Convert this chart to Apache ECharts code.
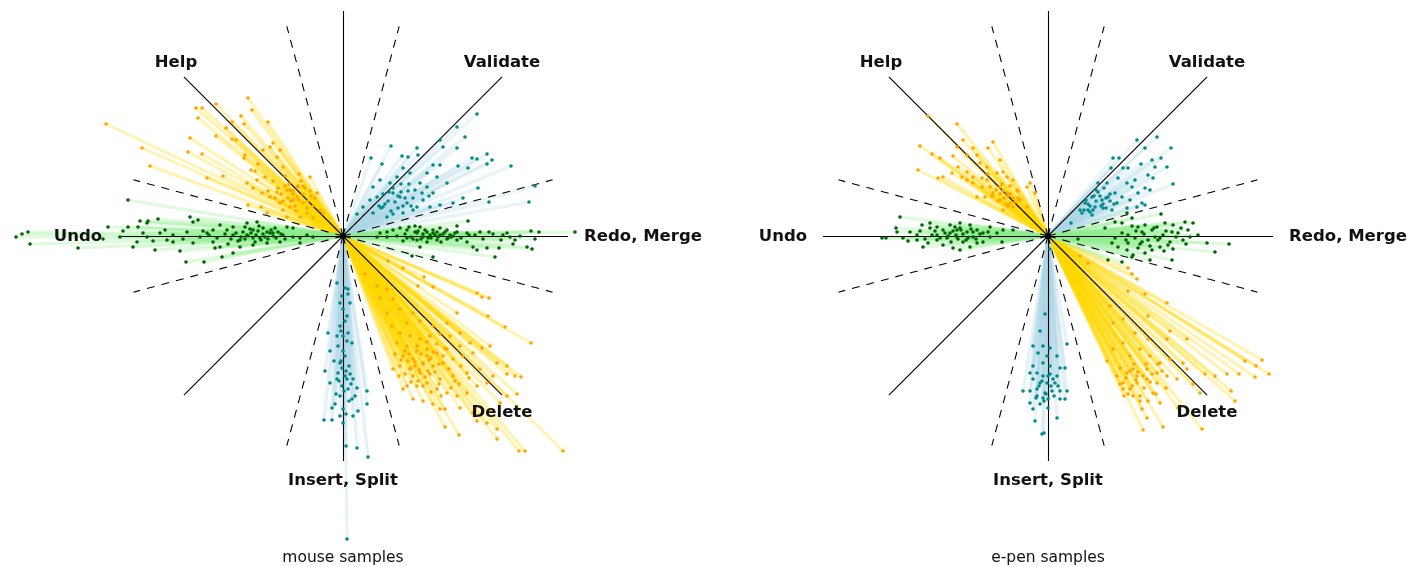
<!DOCTYPE html>
<html><head><meta charset="utf-8">
<script src="https://cdn.jsdelivr.net/npm/echarts@6/dist/echarts.min.js"></script>
<style>html,body{margin:0;padding:0;background:#fff}#c{width:1408px;height:567px}</style>
</head><body><div id="c"></div>
<script>
// ---- guide geometry (data units, centre = 0,0) ----
const solidDirs = [0, 45, 90, 135, 180, 225, 270, 315];
const solidLen = 225;
const dashDirs = [15, 75, 105, 165, 195, 255, 285, 345];
const dashLen = 217;

// ---- direction labels ----
const dirNames = ['Help', 'Validate', 'Undo', 'Redo, Merge', 'Delete', 'Insert, Split'];
const dirLabelPos = [[-167, 173], [159, 173], [-265, -1], [300, -1], [159, -177], [0, -245]];
const panelCaptions = ['mouse samples', 'e-pen samples'];
const captionPos = [0, -322];

// ---- mouse samples: gesture end points ----
const mouseHelp = [[-237,112],[-201,88],[-193,70],[-153,98],[-155,84],[-147,128],[-141,128],[-145,118],[-127,132],[-95,138],[-91,126],[-75,114],[-102,120],[-99,112],[-111,114],[-117,108],[-127,100],[-141,82],[-136,58],[-120,60],[-107,96],[-111,97],[-98,81],[-92,66],[-85,72],[-80,86],[-73,89],[-63,86],[-66,79],[-60,69],[-78,59],[-86,56],[-96,53],[-90,48],[-81,43],[-73,39],[-66,44],[-53,46],[-46,39],[-40,33],[-53,29],[-60,26],[-33,59],[-26,43],[-23,26],[-36,23],[-46,49],[-50,36],[-63,33],[-76,23],[-56,19],[-43,19],[-30,18],[-20,23],[-82,29],[-95,31],[-50,45],[-45,50],[-40,42],[-55,38],[-35,35],[-30,30],[-48,30],[-58,50],[-42,55],[-62,42],[-38,48],[-52,35],[-28,38],[-33,45],[-99,78],[-88,65],[-70,93]];
const mouseHelpCore = [[-44,36],[-50,42],[-56,46],[-36,28],[-40,50],[-60,35],[-47,25],[-32,40],[-54,52],[-65,48],[-70,55],[-58,60],[-44,62],[-68,38],[-75,45]];
const mouseValidate = [[134,122],[114,109],[122,99],[97,96],[48,90],[74,88],[114,88],[100,89],[28,78],[59,80],[39,72],[129,78],[134,77],[144,82],[149,76],[144,72],[168,70],[115,70],[125,68],[192,50],[186,34],[135,48],[146,34],[120,38],[110,33],[97,31],[87,29],[104,53],[94,59],[84,63],[77,53],[67,63],[60,68],[54,59],[47,53],[37,56],[30,49],[27,36],[20,29],[14,22],[34,39],[40,29],[50,43],[57,39],[64,33],[70,26],[44,19],[30,23],[79,43],[84,49],[74,29],[60,23],[90,43],[97,71],[90,71],[65,79],[75,81],[45,35],[55,40],[60,30],[50,48],[65,45],[38,28],[70,38],[48,25]];
const mouseValidateCore = [[42,32],[52,34],[58,44],[62,38],[46,44],[36,30],[66,52],[72,46],[55,28],[50,22],[80,36],[86,40],[68,30],[40,42],[58,52]];
const mouseUndo = [[-327,-1],[-321,2],[-315,4],[-313,-8],[-265,-12],[-215,36],[-235,9],[-215,9],[-205,9],[-203,15],[-195,15],[-196,13],[-185,17],[-153,19],[-150,14],[-145,16],[-188,-14],[-206,-6],[-210,-11],[-163,-15],[-157,-26],[-139,-26],[-121,-21],[-110,-17],[-123,-11],[-103,-4],[-143,-1],[-170,1],[-183,3],[-176,-4],[-223,-1],[-130,6],[-123,11],[-110,9],[-96,13],[-86,14],[-90,6],[-76,4],[-70,3],[-60,1],[-50,-1],[-43,-2],[-36,1],[-30,-1],[-63,-6],[-76,-7],[-90,-9],[-103,-11],[-56,9],[-80,8],[-96,1],[-83,-2],[-110,1],[-116,6],[-136,3],[-156,4],[-130,-6],[-150,-7],[-170,-6],[-196,-1],[-43,-7],[-50,8],[-70,0],[-75,-3],[-80,2],[-85,5],[-90,-2],[-95,0],[-100,4],[-65,4],[-105,-5],[-88,-6],[-72,6],[-78,-1],[-92,3],[-98,-3]];
const mouseUndoCore = [[-62,2],[-67,-2],[-73,3],[-82,-4],[-87,1],[-93,7],[-102,-1],[-107,3],[-112,-3],[-118,2],[-126,-2],[-134,1],[-140,5],[-160,-3],[-178,6],[-190,-5],[-200,3],[-220,5],[-240,-3],[-58,-3],[-68,8],[-84,10],[-98,9],[-115,-8],[-128,-12]];
const mouseRedo = [[125,15],[232,4],[196,4],[188,5],[192,-3],[177,0],[172,-4],[184,-11],[189,-13],[156,-12],[152,-21],[134,-14],[144,-12],[130,-11],[150,2],[160,1],[167,-1],[137,4],[132,1],[124,3],[114,4],[104,6],[97,8],[90,6],[84,4],[77,9],[72,10],[64,6],[57,8],[50,6],[44,4],[37,3],[34,-1],[44,-1],[54,0],[64,-2],[74,-4],[84,-6],[94,-4],[104,-3],[114,-4],[124,-6],[90,-21],[69,-20],[77,-11],[97,1],[87,1],[107,1],[114,10],[74,3],[80,-1],[94,4],[80,2],[85,-2],[90,3],[95,-1],[100,2],[105,-2],[110,0],[70,-3],[75,5]];
const mouseRedoCore = [[62,2],[68,-1],[72,4],[78,-3],[82,6],[88,-2],[92,1],[98,-6],[102,4],[108,-1],[112,3],[118,-2],[126,1],[140,-3],[146,4],[158,-4],[164,3],[170,-8],[60,-5],[66,9]];
const mouseDelete = [[45,-25],[60,-32],[81,-41],[90,-51],[22,-38],[134,-57],[139,-61],[146,-62],[145,-80],[162,-91],[188,-107],[164,-138],[172,-140],[178,-141],[174,-158],[164,-160],[157,-167],[130,-177],[117,-172],[102,-173],[97,-173],[102,-191],[116,-199],[154,-193],[154,-203],[176,-215],[182,-215],[220,-215],[134,-185],[144,-187],[70,-163],[80,-165],[90,-168],[60,-153],[74,-150],[84,-147],[94,-153],[104,-157],[114,-160],[124,-157],[134,-150],[144,-147],[150,-140],[137,-133],[124,-137],[110,-140],[97,-143],[87,-138],[77,-137],[67,-133],[57,-130],[50,-133],[60,-120],[70,-123],[80,-127],[90,-130],[100,-127],[110,-123],[120,-120],[130,-117],[139,-112],[117,-110],[104,-113],[94,-117],[84,-113],[74,-115],[64,-110],[54,-107],[57,-97],[67,-100],[77,-103],[87,-100],[97,-98],[107,-100],[49,-90],[64,-87],[77,-85],[90,-90],[44,-77],[57,-73],[70,-77],[37,-62],[50,-63],[34,-50],[44,-53],[75,-50],[114,-77],[104,-87],[117,-97],[127,-107],[147,-110],[154,-127],[164,-130],[65,-125],[72,-130],[78,-118],[85,-135],[70,-140],[62,-115],[88,-122],[75,-145],[68,-132],[80,-128]];
const mouseDeleteCore = [[66,-118],[72,-126],[76,-134],[82,-141],[86,-124],[92,-136],[96,-148],[100,-120],[106,-133],[112,-145],[68,-146],[62,-138],[58,-124],[74,-110],[84,-106],[94,-108],[102,-112],[118,-130],[126,-142],[80,-150],[88,-156],[98,-160],[108,-152],[116,-148],[52,-118],[56,-140],[64,-150],[90,-116],[96,-128],[84,-120]];
const mouseInsert = [[-6,-47],[2,-52],[5,-53],[-1,-60],[7,-67],[0,-73],[4,-80],[-3,-90],[5,-97],[-15,-97],[-13,-115],[-5,-110],[9,-107],[2,-120],[-3,-127],[6,-130],[-18,-135],[-5,-137],[2,-140],[10,-143],[-13,-147],[-1,-150],[5,-153],[14,-152],[-3,-160],[9,-163],[24,-155],[24,-168],[-11,-172],[0,-173],[15,-175],[-3,-180],[-19,-184],[-11,-184],[0,-187],[10,-180],[3,-210],[14,-212],[25,-221],[4,-303],[-6,-100],[0,-100],[4,-143],[-6,-143],[-1,-132],[2,-85],[-3,-67],[5,-58]];
const mouseInsertCore = [[-2,-125],[3,-135],[-4,-145],[1,-155],[6,-165],[-7,-158],[8,-148],[-9,-125],[0,-115],[4,-105],[-2,-95],[7,-138],[-8,-168],[3,-178],[12,-160]];

// ---- e-pen samples: gesture end points ----
const penHelp = [[-120,120],[-91,112],[-128,90],[-116,82],[-130,66],[-110,58],[-105,59],[-108,78],[-95,80],[-91,89],[-85,96],[-75,88],[-71,81],[-60,88],[-55,94],[-81,81],[-90,69],[-96,63],[-81,64],[-75,59],[-68,73],[-61,69],[-48,76],[-61,56],[-51,63],[-41,59],[-35,56],[-48,49],[-55,43],[-41,43],[-31,46],[-21,49],[-18,53],[-13,43],[-28,36],[-38,33],[-48,36],[-35,29],[-21,29],[-45,26],[-58,49],[-66,49],[-75,53],[-71,39],[-63,39],[-45,64],[-81,56],[-86,59],[-40,40],[-45,45],[-35,38],[-50,35],[-30,45],[-42,32],[-38,50],[-48,42]];
const penHelpCore = [[-38,42],[-44,38],[-52,46],[-33,34],[-46,52],[-56,40],[-40,30],[-30,38],[-60,62],[-66,58]];
const penValidate = [[89,96],[109,99],[97,88],[123,88],[65,78],[71,78],[93,72],[104,76],[113,78],[107,69],[119,69],[75,68],[80,68],[63,68],[100,61],[105,58],[125,52],[87,56],[79,53],[70,58],[59,53],[50,53],[50,44],[44,39],[37,33],[32,26],[23,13],[40,26],[47,29],[54,36],[60,39],[67,43],[74,39],[82,36],[90,43],[97,48],[102,46],[89,29],[79,28],[69,33],[64,26],[55,28],[44,21],[34,23],[97,31],[84,49],[94,33],[42,30],[48,35],[55,32],[38,36],[52,40],[58,28],[45,26],[62,35]];
const penValidateCore = [[40,32],[46,40],[53,30],[58,38],[36,26],[62,42],[48,46],[66,32],[42,24],[56,48]];
const penUndo = [[-148,19],[-152,8],[-151,4],[-166,-2],[-162,-2],[-145,-2],[-138,4],[-131,1],[-125,-11],[-120,-7],[-131,-4],[-126,11],[-118,13],[-111,9],[-105,6],[-98,3],[-91,-1],[-85,-6],[-78,-11],[-88,-14],[-95,-12],[-105,-9],[-111,-4],[-116,1],[-98,11],[-88,13],[-78,11],[-71,6],[-65,3],[-58,-1],[-51,3],[-45,6],[-35,6],[-65,-6],[-71,-7],[-58,9],[-81,4],[-91,6],[-75,-1],[-101,-2],[-111,1],[-46,-6],[-118,8],[-85,2],[-90,-3],[-95,5],[-80,-2],[-100,0],[-75,4],[-88,8]];
const penUndoCore = [[-82,-4],[-87,6],[-92,1],[-97,-6],[-103,3],[-108,-2],[-113,5],[-68,2],[-72,-3],[-77,7],[-123,-3],[-93,9],[-60,4],[-128,5],[-140,-5]];
const penRedo = [[113,22],[57,8],[67,14],[74,13],[79,23],[84,18],[90,9],[97,11],[104,6],[109,9],[117,13],[125,11],[137,14],[140,6],[145,13],[150,1],[142,-1],[135,-4],[130,3],[124,4],[115,1],[107,-1],[100,-4],[94,-6],[87,-2],[80,1],[74,3],[67,-2],[64,-7],[70,-11],[79,-14],[85,-19],[97,-17],[104,-14],[112,-11],[120,-9],[125,-13],[124,-24],[102,-24],[159,-7],[167,-16],[181,-8],[30,-3],[60,-24],[74,-26],[84,-21],[110,-4],[94,4],[80,-7]];
const penRedoCore = [[88,5],[92,-8],[96,2],[102,-10],[106,8],[112,-2],[118,5],[122,-6],[128,-1],[133,8],[78,-4],[84,10],[90,-12],[116,-15],[138,-8]];
const penDelete = [[32,-20],[40,-27],[80,-32],[84,-38],[89,-43],[80,-55],[97,-58],[119,-67],[62,-70],[75,-83],[100,-80],[122,-95],[139,-103],[65,-87],[87,-97],[100,-103],[119,-103],[59,-125],[65,-113],[75,-107],[82,-120],[92,-113],[102,-120],[112,-127],[122,-123],[135,-127],[139,-133],[157,-138],[167,-140],[179,-138],[191,-138],[197,-125],[208,-130],[214,-124],[221,-138],[207,-141],[183,-155],[187,-165],[145,-148],[152,-157],[130,-172],[112,-167],[94,-173],[99,-182],[95,-194],[115,-191],[154,-193],[92,-160],[82,-153],[75,-147],[69,-140],[79,-137],[89,-140],[99,-143],[109,-147],[119,-140],[129,-143],[105,-157],[85,-160],[75,-153],[89,-147],[99,-133],[109,-137],[85,-133],[72,-132]];
const penDeleteCore = [[78,-142],[84,-150],[90,-136],[96,-152],[102,-146],[108,-158],[114,-135],[92,-165],[86,-128],[80,-158],[98,-128],[104,-138],[118,-152],[72,-148],[88,-144],[95,-140],[110,-128],[100,-165],[82,-135],[76,-160]];
const penInsert = [[2,-13],[-3,-78],[-8,-95],[-15,-110],[-5,-110],[2,-112],[19,-108],[-10,-117],[-1,-120],[9,-120],[-15,-130],[-5,-127],[2,-130],[12,-132],[17,-132],[-18,-137],[-11,-137],[-5,-140],[2,-138],[9,-140],[-15,-143],[-8,-147],[-1,-147],[7,-147],[-25,-155],[-18,-155],[-11,-153],[-3,-157],[4,-155],[12,-155],[19,-155],[-11,-160],[-5,-162],[0,-163],[12,-163],[17,-163],[-18,-167],[-8,-168],[0,-172],[-15,-173],[9,-182],[-13,-185],[-6,-198],[-4,-197]];
const penInsertCore = [[-6,-145],[3,-150],[-2,-158],[6,-160],[-9,-150],[0,-140],[5,-143],[-4,-165],[-12,-162],[10,-150]];

const panels = [
  {help: mouseHelp.concat(mouseHelpCore), validate: mouseValidate.concat(mouseValidateCore),
   undo: mouseUndo.concat(mouseUndoCore), redo: mouseRedo.concat(mouseRedoCore),
   del: mouseDelete.concat(mouseDeleteCore), insert: mouseInsert.concat(mouseInsertCore)},
  {help: penHelp.concat(penHelpCore), validate: penValidate.concat(penValidateCore),
   undo: penUndo.concat(penUndoCore), redo: penRedo.concat(penRedoCore),
   del: penDelete.concat(penDeleteCore), insert: penInsert.concat(penInsertCore)}
];

const ORANGE = '#ffa500', GOLD = '#ffd700';
const TEAL = '#008b8b', LIGHTBLUE = '#add8e6';
const DKGREEN = '#006400', LIGHTGREEN = '#90ee90';

const chart = echarts.init(document.getElementById('c'), null, {renderer: 'canvas'});
const grids = [], xAxes = [], yAxes = [], series = [];
const centers = [343, 1048];
centers.forEach((cx, i) => {
  grids.push({left: cx - 343, top: 0, width: 686, height: 567});
  xAxes.push({type: 'value', gridIndex: i, min: -343, max: 343, show: false});
  yAxes.push({type: 'value', gridIndex: i, min: -331, max: 236, show: false});
});

function rad(d) { return d * Math.PI / 180; }

panels.forEach((p, i) => {
  const ax = {xAxisIndex: i, yAxisIndex: i};
  const traj = (pts, color, w, op) => ({
    type: 'lines', coordinateSystem: 'cartesian2d', ...ax, silent: true, z: 1,
    polyline: false,
    lineStyle: {color: color, width: w, opacity: op, cap: 'round'},
    data: pts.map(pt => ({coords: [[0, 0], pt]}))
  });
  const dots = (pts, color) => ({
    type: 'scatter', ...ax, silent: true, z: 4, symbol: 'circle', symbolSize: 3.6,
    itemStyle: {color: color, opacity: 1}, data: pts
  });
  series.push(traj(p.help, GOLD, 3, 0.3), traj(p.del, GOLD, 3, 0.3));
  series.push(traj(p.validate, LIGHTBLUE, 3, 0.28), traj(p.insert, LIGHTBLUE, 3, 0.32));
  series.push(traj(p.undo, LIGHTGREEN, 3, 0.28), traj(p.redo, LIGHTGREEN, 3, 0.28));
  // guides
  series.push({
    type: 'lines', coordinateSystem: 'cartesian2d', ...ax, silent: true, z: 3,
    lineStyle: {color: '#000', width: 1.1, opacity: 1},
    data: solidDirs.map(d => ({coords: [[0, 0], [solidLen * Math.cos(rad(d)), solidLen * Math.sin(rad(d))]]}))
  });
  series.push({
    type: 'lines', coordinateSystem: 'cartesian2d', ...ax, silent: true, z: 3,
    lineStyle: {color: '#000', width: 1.1, opacity: 1, type: [8, 7]},
    data: dashDirs.map(d => ({coords: [[0, 0], [dashLen * Math.cos(rad(d)), dashLen * Math.sin(rad(d))]]}))
  });
  series.push(dots(p.help, ORANGE), dots(p.del, ORANGE));
  series.push(dots(p.validate, TEAL), dots(p.insert, TEAL));
  series.push(dots(p.undo, DKGREEN), dots(p.redo, DKGREEN));
  // start marker
  series.push({type: 'scatter', ...ax, silent: true, z: 5, symbol: 'circle', symbolSize: 6,
    itemStyle: {color: '#000', opacity: 1}, data: [[0, 0]]});
  // labels
  series.push({
    type: 'scatter', ...ax, silent: true, z: 6, symbolSize: 1, itemStyle: {color: 'rgba(0,0,0,0)', opacity: 1},
    label: {show: true, position: 'inside', formatter: '{b}', color: '#111', fontWeight: 'bold',
      fontSize: 16.5, fontFamily: 'DejaVu Sans', opacity: 1},
    data: dirNames.map((n, k) => ({name: n, value: dirLabelPos[k]}))
  });
  series.push({
    type: 'scatter', ...ax, silent: true, z: 6, symbolSize: 1, itemStyle: {color: 'rgba(0,0,0,0)', opacity: 1},
    label: {show: true, position: 'inside', formatter: '{b}', color: '#111', fontWeight: 'normal',
      fontSize: 15.5, fontFamily: 'DejaVu Sans', opacity: 1},
    data: [{name: panelCaptions[i], value: captionPos}]
  });
});

chart.setOption({
  animation: false,
  backgroundColor: '#fff',
  grid: grids, xAxis: xAxes, yAxis: yAxes, series: series
});
</script></body></html>
